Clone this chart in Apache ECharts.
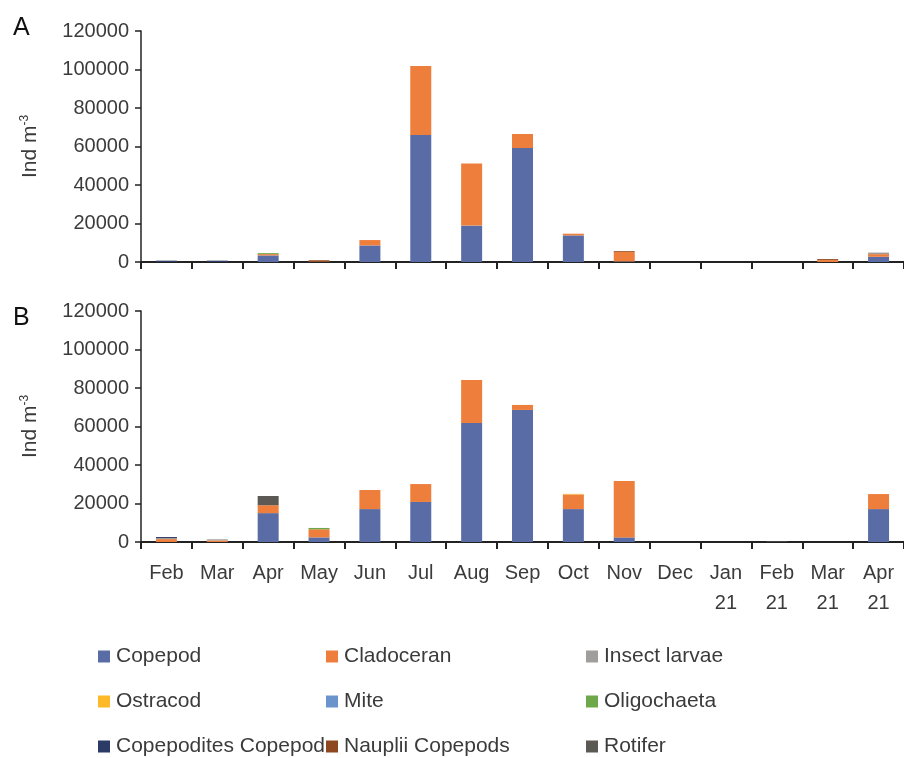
<!DOCTYPE html>
<html>
<head>
<meta charset="utf-8">
<script src="https://cdn.jsdelivr.net/npm/echarts@6/dist/echarts.min.js"></script>
<style>
  html, body { margin: 0; padding: 0; background: #fff; }
  #chart { width: 904px; height: 758px; }
</style>
</head>
<body>
<div id="chart"></div>
<script>
// Sampling months (Feb 2020 – Apr 2021)
const months = ['Feb', 'Mar', 'Apr', 'May', 'Jun', 'Jul', 'Aug', 'Sep', 'Oct', 'Nov', 'Dec', 'Jan\n21', 'Feb\n21', 'Mar\n21', 'Apr\n21'];
const yTicks = [0, 20000, 40000, 60000, 80000, 100000, 120000];

const taxa = ['Copepod', 'Cladoceran', 'Insect larvae', 'Ostracod', 'Mite', 'Oligochaeta', 'Copepodites Copepod', 'Nauplii Copepods', 'Rotifer'];
const taxaColors = ['#5a6ca6', '#ee7e3c', '#a19d9a', '#fdb92a', '#6b94cc', '#6fa84a', '#2c3a66', '#8e4720', '#5c5854'];

// Panel A densities (ind m-3)
const copepodA     = [0, 0, 3400, 0, 8600, 66000, 18900, 59200, 13800, 300, 0, 0, 0, 0, 2700];
const cladoceranA  = [0, 0, 700, 300, 2800, 35800, 32300, 7300, 900, 5000, 0, 0, 0, 1000, 1400];
const insectA      = [0, 0, 0, 0, 0, 0, 0, 0, 0, 0, 0, 0, 0, 0, 800];
const ostracodA    = [0, 0, 0, 0, 0, 0, 0, 0, 0, 0, 0, 0, 0, 0, 0];
const miteA        = [0, 0, 0, 0, 0, 0, 0, 0, 0, 0, 0, 0, 0, 0, 0];
const oligoA       = [0, 0, 500, 0, 0, 0, 0, 0, 0, 0, 0, 0, 0, 0, 0];
const copepoditesA = [700, 700, 0, 0, 0, 0, 0, 0, 0, 0, 0, 0, 0, 0, 0];
const naupliiA     = [0, 0, 0, 600, 0, 0, 0, 0, 0, 400, 0, 0, 0, 500, 0];
const rotiferA     = [0, 0, 0, 0, 0, 0, 0, 0, 0, 0, 0, 0, 0, 0, 0];

// Panel B densities (ind m-3)
const copepodB     = [0, 0, 15000, 2400, 17100, 20800, 61800, 68600, 17100, 2400, 0, 0, 0, 0, 17100];
const cladoceranB  = [1500, 800, 4100, 4200, 9900, 9300, 22400, 2600, 7600, 29300, 0, 0, 0, 0, 7800];
const insectB      = [600, 600, 0, 0, 0, 0, 0, 0, 0, 0, 0, 0, 0, 0, 0];
const ostracodB    = [0, 0, 0, 0, 0, 0, 0, 0, 300, 0, 0, 0, 0, 0, 0];
const miteB        = [0, 0, 0, 0, 0, 0, 0, 0, 0, 0, 0, 0, 0, 0, 0];
const oligoB       = [0, 0, 0, 700, 0, 0, 0, 0, 0, 0, 0, 0, 0, 0, 0];
const copepoditesB = [500, 0, 0, 0, 0, 0, 0, 0, 0, 0, 0, 0, 0, 0, 0];
const naupliiB     = [0, 0, 0, 0, 0, 0, 0, 0, 0, 0, 0, 0, 0, 0, 0];
const rotiferB     = [0, 0, 4800, 0, 0, 0, 0, 0, 0, 0, 0, 0, 300, 0, 0];

const panelA = [copepodA, cladoceranA, insectA, ostracodA, miteA, oligoA, copepoditesA, naupliiA, rotiferA];
const panelB = [copepodB, cladoceranB, insectB, ostracodB, miteB, oligoB, copepoditesB, naupliiB, rotiferB];

const FONT = '"Liberation Sans", Arial, sans-serif';
const TEXT = '#3b3b3b';

function yAxis(gridIndex) {
  return {
    type: 'value', gridIndex, min: 0, max: yTicks[yTicks.length - 1], interval: 20000,
    name: 'Ind m{sup|-3}', nameLocation: 'middle', nameGap: 100, nameRotate: 90,
    nameTextStyle: {
      fontFamily: FONT, fontSize: 21, color: TEXT,
      rich: { sup: { fontFamily: FONT, fontSize: 12, color: TEXT, verticalAlign: 'top', padding: [0, 0, 10, 0] } }
    },
    axisLine: { show: true, lineStyle: { color: '#222', width: 1.5 } },
    axisTick: { show: true, inside: false, length: 6, lineStyle: { color: '#222', width: 1.5 } },
    axisLabel: { fontFamily: FONT, fontSize: 20, color: TEXT, margin: 12, formatter: v => String(v) },
    splitLine: { show: false }
  };
}

function xAxis(gridIndex, showLabels) {
  return {
    type: 'category', gridIndex, data: months,
    axisLine: { show: true, lineStyle: { color: '#222', width: 2 } },
    axisTick: { show: true, inside: false, length: 7, alignWithLabel: false, interval: 0, lineStyle: { color: '#222', width: 2 } },
    axisLabel: { show: showLabels, interval: 0, fontFamily: FONT, fontSize: 20, color: TEXT, margin: 16, lineHeight: 30 }
  };
}

const series = [];
[panelA, panelB].forEach((panel, p) => {
  panel.forEach((vals, i) => {
    series.push({
      name: taxa[i], type: 'bar', stack: 'panel' + p,
      xAxisIndex: p, yAxisIndex: p,
      barWidth: 21, data: vals,
      itemStyle: { color: taxaColors[i] },
      emphasis: { disabled: true }
    });
  });
});

// Legend: three columns, three rows
const legendCols = [98, 326, 586];
const legendRows = [646, 691, 736];
const legendLayout = [
  ['Copepod', 'Cladoceran', 'Insect larvae'],
  ['Ostracod', 'Mite', 'Oligochaeta'],
  ['Copepodites Copepod', 'Nauplii Copepods', 'Rotifer']
];
const legends = [];
legendLayout.forEach((row, r) => {
  row.forEach((name, c) => {
    legends.push({
      data: [name], left: legendCols[c], top: legendRows[r],
      icon: 'rect', itemWidth: 12, itemHeight: 12, padding: 0,
      textStyle: { fontFamily: FONT, fontSize: 21, color: TEXT, padding: [0, 0, 0, 1] }
    });
  });
});

const chart = echarts.init(document.getElementById('chart'), null, { renderer: 'canvas' });
chart.setOption({
  backgroundColor: '#fff',
  animation: false,
  graphic: [
    { type: 'text', left: 13, top: 16, style: { text: 'A', font: '25px ' + FONT, fill: '#111' } },
    { type: 'text', left: 13, top: 306, style: { text: 'B', font: '25px ' + FONT, fill: '#111' } }
  ],
  legend: legends,
  grid: [
    { left: 141, right: 0, top: 31, height: 231 },
    { left: 141, right: 0, top: 311, height: 231 }
  ],
  xAxis: [xAxis(0, false), xAxis(1, true)],
  yAxis: [yAxis(0), yAxis(1)],
  series
});
</script>
</body>
</html>
